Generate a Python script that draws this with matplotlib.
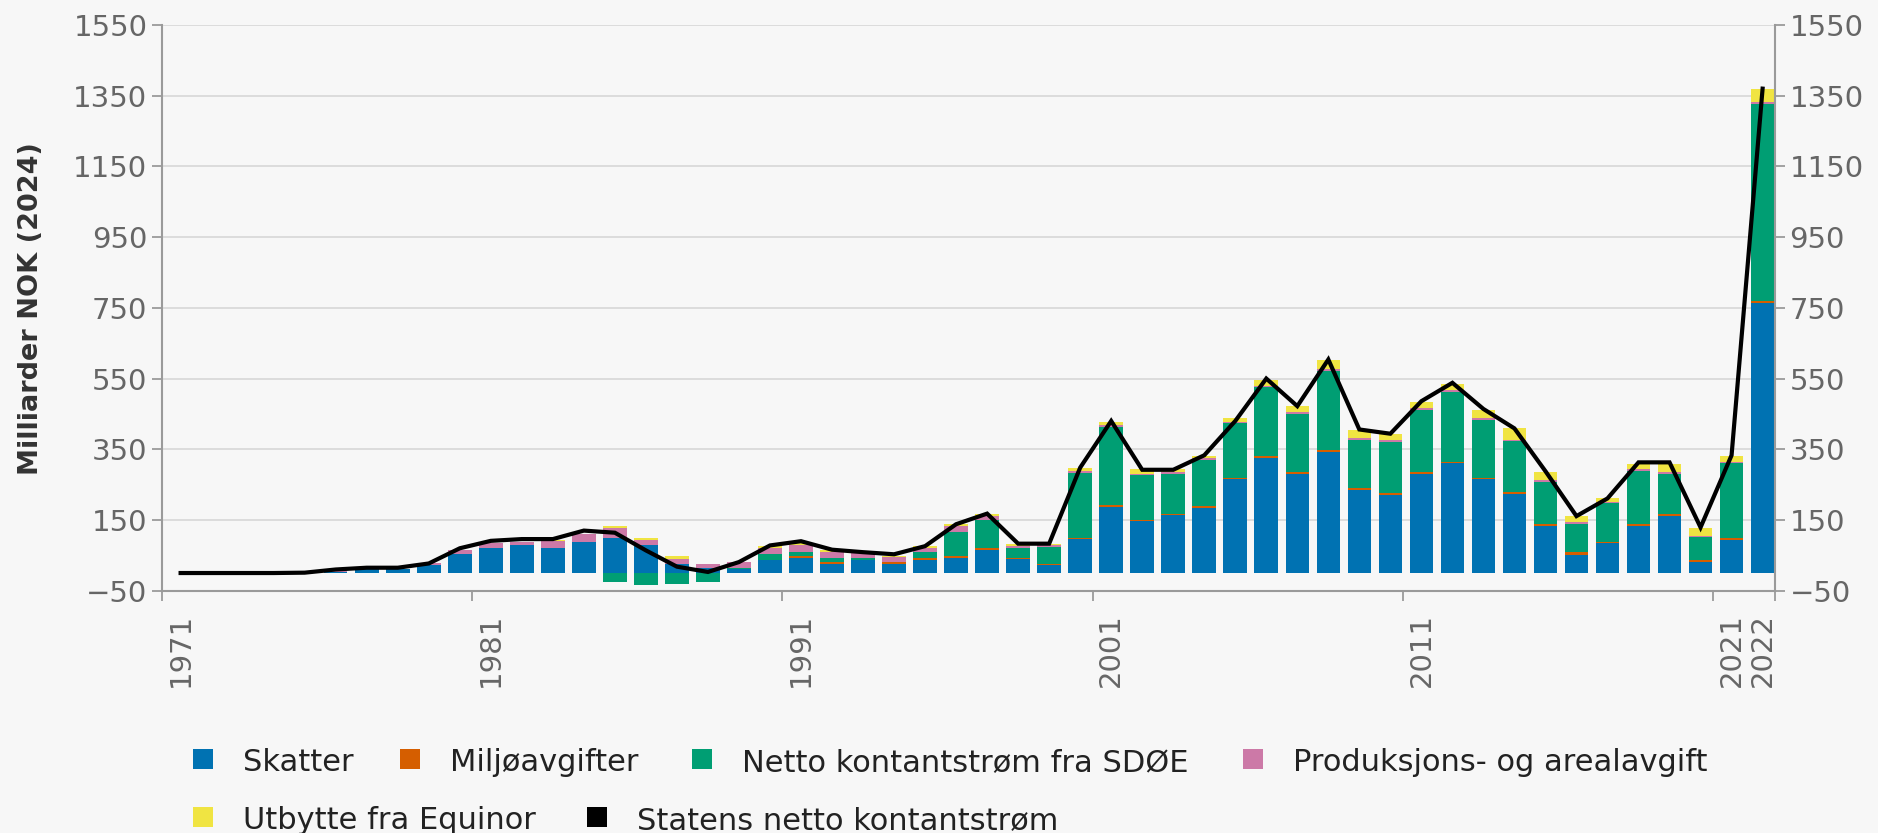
import numpy as np
import matplotlib
matplotlib.use('Agg')
import matplotlib.pyplot as plt
from matplotlib.patches import Rectangle

years = np.arange(1971, 2023)

skatter = [0, 0, 0, 0, 0, 4, 10, 10, 22, 55,
           72, 79, 72, 88, 100, 78, 26, 15, 11, 38,
           43, 26, 36, 26, 38, 43, 66, 39, 22, 96,
           187, 147, 163, 185, 265, 326, 281, 342, 236, 220,
           281, 310, 265, 223, 134, 50, 84, 134, 162, 32,
           94, 763]
miljo = [0, 0, 0, 0, 0, 0, 0, 0, 0, 0,
         0, 0, 0, 0, 0, 0, 0, 0, 0, 0,
         5, 4, 2, 4, 4, 5, 5, 4, 4, 4,
         4, 4, 4, 4, 4, 5, 5, 5, 5, 5,
         5, 5, 5, 5, 5, 9, 5, 5, 5, 6,
         5, 5]
sdoe = [0, 0, 0, 0, 0, 0, 0, 0, 0, 0,
        0, 0, 0, 0, -24, -35, -30, -24, 3, 17,
        12, 13, 4, 2, 17, 68, 80, 29, 48, 183,
        223, 125, 114, 132, 154, 194, 165, 224, 136, 146,
        176, 197, 163, 144, 119, 81, 108, 149, 114, 63,
        211, 558]
prod = [1, 0, 0, 0, 1, 2, 1, 2, 5, 10,
        13, 9, 19, 22, 28, 14, 15, 10, 17, 17,
        20, 17, 15, 12, 12, 17, 10, 5, 4, 5,
        5, 5, 4, 4, 5, 5, 5, 6, 5, 4,
        5, 5, 5, 5, 5, 5, 5, 5, 5, 4,
        3, 5]
equinor = [0, 0, 0, 0, 0, 0, 0, 0, 0, 0,
           0, 0, 2, 0, 5, 6, 6, 0, 0, 4,
           5, 4, 3, 4, 5, 5, 5, 5, 4, 9,
           9, 14, 9, 6, 11, 15, 16, 25, 22, 17,
           16, 17, 22, 33, 23, 15, 10, 15, 22, 22,
           18, 39]
netto = [0, 0, 0, 0, 1, 10, 15, 15, 27, 70,
         91, 96, 96, 120, 114, 64, 18, 3, 31, 78,
         90, 66, 59, 53, 76, 138, 168, 83, 83, 298,
         430, 292, 292, 333, 430, 550, 472, 604, 406, 394,
         486, 538, 464, 409, 288, 161, 211, 313, 313, 129,
         333, 1370]

label_years = [1971, 1981, 1991, 2001, 2011, 2021, 2022]

names = ['Skatter', 'Miljøavgifter', 'Netto kontantstrøm fra SDØE',
         'Produksjons- og arealavgift', 'Utbytte fra Equinor',
         'Statens netto kontantstrøm']
colors = ['#0072b2', '#d55e00', '#009e73', '#cc79a7', '#f0e442', '#000000']

W, H = 1878, 833
bg = '#f7f7f7'
fig = plt.figure(figsize=(W / 100, H / 100), dpi=100, facecolor=bg)
ax = fig.add_axes([162 / W, 1 - 590.7 / H, 1613 / W, 565.7 / H])
ax.set_facecolor(bg)

x = years + 0.6
pos_bottom = np.zeros(len(years))
neg_bottom = np.zeros(len(years))
for vals, c in zip([skatter, miljo, sdoe, prod, equinor], colors[:5]):
    v = np.array(vals, dtype=float)
    bottom = np.where(v >= 0, pos_bottom, neg_bottom)
    ax.bar(x, v, 0.76, bottom=bottom, color=c, linewidth=0, zorder=2)
    pos_bottom += np.where(v > 0, v, 0)
    neg_bottom += np.where(v < 0, v, 0)

ax.plot(x, netto, color='black', lw=3.0, zorder=4, solid_joinstyle='miter')

ax.set_xlim(1971, 2023)
ax.set_ylim(-50, 1550)
ax.set_yticks(np.arange(-50, 1551, 200))
ax.grid(axis='y', color='#dadada', lw=1.3, zorder=0)
ax.set_axisbelow(True)

for s in ['left', 'right', 'bottom']:
    ax.spines[s].set_color('#9a9a9a')
    ax.spines[s].set_linewidth(1.5)
ax.spines['top'].set_visible(False)

ax.tick_params(axis='y', which='both', left=True, right=True, labelleft=True,
               labelright=True, direction='out', length=7, width=1.3,
               color='#9a9a9a', labelsize=21, labelcolor='#666666', pad=3.5)

ax.set_xticks([y + 0.6 for y in label_years])
ax.set_xticklabels([str(y) for y in label_years], rotation=90)
ax.set_xticks([1971, 1981, 1991, 2001, 2011, 2021, 2023], minor=True)
ax.tick_params(axis='x', which='major', length=0, labelsize=21,
               labelcolor='#666666', pad=16)
ax.tick_params(axis='x', which='minor', length=7, width=1.3, color='#9a9a9a')

fig.text(31 / W, 1 - 308.5 / H, 'Milliarder NOK (2024)', rotation=90,
         ha='center', va='center', fontsize=19.5, fontweight='bold',
         color='#333333')

# legend laid out like the original, two rows
legend_pos = [(203, 759), (410, 759), (702, 759), (1253, 759),
              (203, 817), (597, 817)]
for (px, py), name, c in zip(legend_pos, names, colors):
    fig.add_artist(Rectangle(((px - 10) / W, 1 - (py + 10) / H), 20 / W, 20 / H,
                             transform=fig.transFigure, color=c, lw=0))
    fig.text((px + 40) / W, 1 - (py + 12) / H, name, ha='left', va='baseline',
             fontsize=22, color='#222222')

fig.savefig('out.png', dpi=100, facecolor=bg)
